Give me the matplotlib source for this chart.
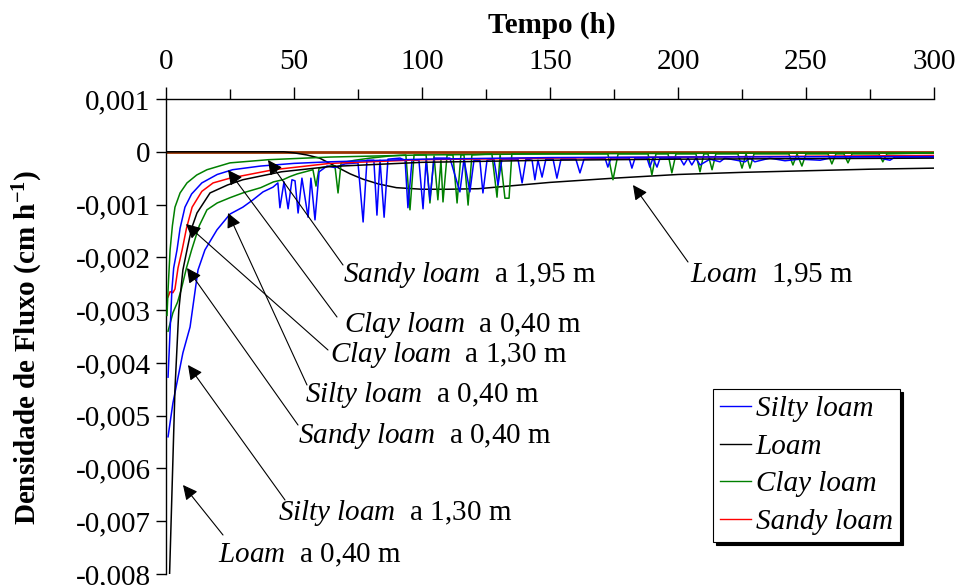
import matplotlib
matplotlib.use('Agg')
import matplotlib.pyplot as plt
from matplotlib.ticker import FuncFormatter, MultipleLocator
from matplotlib.lines import Line2D
import numpy as np

plt.rcParams['font.family'] = ['Liberation Serif', 'DejaVu Serif']
plt.rcParams['mathtext.fontset'] = 'custom'
plt.rcParams['mathtext.rm'] = 'Liberation Serif'
plt.rcParams['mathtext.it'] = 'Liberation Serif:italic'
plt.rcParams['mathtext.bf'] = 'Liberation Serif:bold'
plt.rcParams['axes.unicode_minus'] = False

# ---------------- data (time in h, flux in 1e-3 cm/h) ----------------
silty040_t = [0.8, 2.3, 3.0, 4.3, 5.5, 7.4, 10, 14, 20, 26, 37, 50, 64, 100, 150, 200, 300]
silty040_f = [-4.27, -2.62, -2.2, -1.86, -1.45, -1.05, -0.80, -0.59, -0.43, -0.34, -0.27, -0.22,
              -0.19, -0.14, -0.11, -0.10, -0.09]

silty130_t = [0.8, 2.7, 6.6, 9.4, 12.5, 15.2, 19.9, 25, 30, 34, 37.9, 41.8, 43.7, 44.5, 46.1, 47.7,
              49.2, 50.4, 51.6, 53.1, 55.5, 56.6, 58.2, 59.8, 62.9, 66, 69.9, 75, 77, 78.5, 81.2,
              82.4, 83.6, 85.2, 86.7, 91.4, 93.4, 94.5, 96.1, 98.8, 100.4, 101.6, 103.1, 104.7,
              110.9, 114.8, 116.4, 118.7, 120.3, 122.6, 123.8, 125.4, 128.1, 129.7, 131.2, 137.5,
              139.1, 140.6, 143, 144.1, 145.3, 146.9, 148.4, 151.2, 152.7, 154.3, 160.1, 161.7,
              163.3, 171.5, 172.6, 173.8, 180.9, 182, 183.2, 187.9, 189, 190.2, 191.8, 193, 200.8,
              202.3, 203.9, 205.4, 207, 208.6, 212.5, 216.4, 218.3, 226.2, 228.1, 230, 235.9,
              241.8, 247.6, 255.5, 259.4, 278.9, 282.8, 284.8, 300]
silty130_f = [-5.40, -4.76, -3.81, -3.32, -2.24, -1.86, -1.48, -1.18, -1.05, -0.91, -0.76, -0.67,
              -0.59, -1.06, -0.57, -1.08, -0.53, -0.55, -1.16, -0.50, -1.24, -0.50, -1.29, -0.38,
              -0.27, -0.30, -0.23, -0.21, -1.33, -0.16, -0.16, -1.20, -0.16, -1.24, -0.14, -0.12,
              -0.16, -1.06, -0.16, -0.16, -1.08, -0.16, -0.91, -0.12, -0.12, -0.76, -0.14, -0.76,
              -0.16, -0.16, -0.78, -0.16, -0.14, -0.63, -0.14, -0.14, -0.59, -0.14, -0.16, -0.53,
              -0.16, -0.48, -0.14, -0.14, -0.50, -0.14, -0.14, -0.40, -0.14, -0.12, -0.29, -0.12,
              -0.12, -0.31, -0.12, -0.12, -0.29, -0.12, -0.29, -0.12, -0.12, -0.25, -0.12, -0.25,
              -0.12, -0.25, -0.14, -0.19, -0.12, -0.19, -0.12, -0.19, -0.12, -0.17, -0.14, -0.16,
              -0.12, -0.12, -0.16, -0.10, -0.10]

loam040_t = [1.4, 3.5, 5.0, 6.6, 8.2, 10, 12.1, 17.2, 24, 30, 45, 64, 100, 150, 200, 300]
loam040_f = [-8.0, -4.5, -3.0, -2.24, -1.86, -1.45, -1.16, -0.78, -0.63, -0.53, -0.38, -0.28,
             -0.20, -0.16, -0.14, -0.12]

loam195_t = [0, 46, 50, 55, 60, 64, 68, 72, 77, 83, 90, 100, 110, 122, 150, 175, 200, 225, 250,
             275, 300]
loam195_f = [0, 0, -0.02, -0.06, -0.12, -0.22, -0.32, -0.42, -0.52, -0.61, -0.68, -0.71, -0.71,
             -0.70, -0.58, -0.50, -0.43, -0.39, -0.36, -0.33, -0.31]

clay040_t = [0.4, 0.8, 1.6, 2.5, 3.5, 5.5, 8.2, 12, 16, 25, 40, 64, 100, 150, 200, 300]
clay040_f = [-3.1, -2.62, -1.86, -1.4, -1.05, -0.78, -0.59, -0.44, -0.34, -0.21, -0.15, -0.10,
             -0.06, -0.04, -0.03, -0.02]

clay130_t = [0.8, 2.7, 4.5, 6, 8, 10, 13, 16, 20, 25, 30, 37, 42, 45.7, 48.4, 51.2, 54.3, 57.4,
             58.6, 59.8, 64.1, 66, 67.2, 68.4, 73.8, 79.7, 87.5, 93.7, 95.3, 96.9, 101.6, 103.1,
             104.7, 106.2, 107.4, 108.2, 109.8, 112.1, 113.7, 115.2, 116.4, 118, 119.5, 127.3,
             129.3, 130.5, 132.4, 134, 135.1, 172.6, 174.6, 176.6, 188.3, 189.8, 191.4, 196.1,
             197.6, 199.2, 207, 208.6, 210.1, 211.7, 213.3, 214.8, 223.4, 225, 226.6, 228.1,
             229.7, 243.3, 244.9, 246.5, 248.4, 250, 258.6, 260.1, 261.7, 264.8, 266.4, 268,
             278.5, 280, 281.6, 300]
clay130_f = [-3.4, -3.05, -2.85, -2.6, -2.2, -1.86, -1.4, -1.1, -0.97, -0.87, -0.78, -0.68,
             -0.57, -0.53, -0.47, -0.42, -0.38, -0.34, -0.65, -0.31, -0.27, -0.27, -0.78, -0.21,
             -0.16, -0.12, -0.08, -0.06, -1.10, -0.06, -0.06, -0.97, -0.08, -0.91, -0.16, -0.95,
             -0.06, -0.06, -0.97, -0.06, -0.06, -1.01, -0.06, -0.04, -0.86, -0.06, -0.88, -0.88,
             -0.04, -0.04, -0.53, -0.04, -0.04, -0.44, -0.04, -0.04, -0.40, -0.04, -0.04, -0.38,
             -0.04, -0.04, -0.34, -0.04, -0.04, -0.31, -0.04, -0.31, -0.04, -0.04, -0.25, -0.04,
             -0.27, -0.04, -0.04, -0.23, -0.04, -0.04, -0.21, -0.04, -0.04, -0.19, -0.04, -0.02]

sandy040_t = [0.8, 1.6, 2.7, 3.5, 4.7, 6.3, 8, 10.2, 14, 18.4, 25, 42, 64, 100, 150, 200, 300]
sandy040_f = [-2.75, -2.65, -2.67, -2.6, -2.2, -1.86, -1.45, -1.05, -0.75, -0.59, -0.50, -0.34,
              -0.22, -0.15, -0.12, -0.10, -0.07]

zero_t = [0, 300]
zero_f = [0, 0]

legend_labels = ['Silty loam', 'Loam', 'Clay loam', 'Sandy loam']

# annotation texts: (soil, depth)
ann_soil = ['Sandy loam', 'Clay loam', 'Clay loam', 'Silty loam', 'Sandy loam', 'Silty loam',
            'Loam', 'Loam']
ann_depth = ['a 1,95 m', 'a 0,40 m', 'a 1,30 m', 'a 0,40 m', 'a 0,40 m', 'a 1,30 m',
             'a 0,40 m', '1,95 m']

# ---------------- figure ----------------
W, H = 960, 585
FS = 21
fig = plt.figure(figsize=(W / 100, H / 100), dpi=100)
ax = fig.add_axes([166 / W, 11 / H, 768 / W, 475 / H])

S = 1e-3
lw = 1.1
ax.plot(zero_t, np.array(zero_f) * S, color='#993300', lw=2.0, zorder=2)
ax.plot(loam195_t, np.array(loam195_f) * S, color='black', lw=lw, zorder=3)
ax.plot(clay130_t, np.array(clay130_f) * S, color='#008000', lw=lw, zorder=3)
ax.plot(silty130_t, np.array(silty130_f) * S, color='#0000FF', lw=lw, zorder=3)
ax.plot(loam040_t, np.array(loam040_f) * S, color='black', lw=lw, zorder=3)
ax.plot(sandy040_t, np.array(sandy040_f) * S, color='#FF0000', lw=lw, zorder=3)
ax.plot(silty040_t, np.array(silty040_f) * S, color='#0000FF', lw=lw, zorder=3)
ax.plot(clay040_t, np.array(clay040_f) * S, color='#008000', lw=lw, zorder=3)

ax.set_xlim(0, 300)
ax.set_ylim(-0.008, 0.001)

# axes styling
for s in ['right', 'bottom']:
    ax.spines[s].set_visible(False)
for s in ['left', 'top']:
    ax.spines[s].set_linewidth(1.0)
ax.xaxis.tick_top()
ax.xaxis.set_label_position('top')
ax.xaxis.set_major_locator(MultipleLocator(50))
ax.xaxis.set_minor_locator(MultipleLocator(25))
ax.yaxis.set_major_locator(MultipleLocator(0.001))
ax.tick_params(axis='x', which='major', direction='out', length=9, width=1, pad=8, labelsize=FS)
ax.tick_params(axis='x', which='minor', direction='out', length=7, width=1)
ax.tick_params(axis='y', which='major', direction='out', length=7, width=1, pad=4, labelsize=FS)


def yfmt(v, pos):
    if abs(v) < 1e-9:
        return '0'
    return ('%.3f' % v).replace('.', ',')


ax.yaxis.set_major_formatter(FuncFormatter(yfmt))
ax.set_xlabel('Tempo (h)', fontsize=FS, fontweight='bold')
ax.xaxis.set_label_coords(0.503, 1.139)
ax.set_ylabel(r'Densidade de Fluxo (cm h$^{\mathbf{-1}}$)', fontsize=FS, fontweight='bold')
ax.yaxis.set_label_coords(-0.1576, 0.478)


# annotations (pixel positions of the reference converted to data coords)
def px2data(px, py):
    return ((px - 166) * 300 / 768, 0.001 - (py - 99) * 0.009 / 475)


ann_heads = [(268, 160), (228, 170), (186, 224), (228, 213), (187, 268), (188, 365), (183, 485),
             (633, 185)]
ann_tails = [(343, 265), (337, 317), (328, 350), (307, 385), (298, 425), (285, 500), (223, 535),
             (688, 262)]
ann_text = [(343, 275), (344, 325), (330, 355), (305, 395), (298, 436), (278, 513), (218, 555),
            (690, 275)]

for soil, depth, hd, tl, tx in zip(ann_soil, ann_depth, ann_heads, ann_tails, ann_text):
    ax.annotate('', xy=px2data(*hd), xytext=px2data(*tl),
                arrowprops=dict(arrowstyle='-|>', color='black', lw=0.8,
                                mutation_scale=22, shrinkA=0, shrinkB=0),
                annotation_clip=False)
    soil_tex = soil.replace(' ', r'\ ')
    ax.text(*px2data(*tx), r'$\mathit{' + soil_tex + r'}$  ' + depth, fontsize=FS,
            ha='left', va='center')

# legend
colors = ['#0000FF', 'black', '#008000', '#FF0000']
handles = [Line2D([0], [0], color=c, lw=1.0) for c in colors]
leg = ax.legend(handles, legend_labels, loc='upper left', bbox_to_anchor=(0.712, 0.390),
                frameon=True, fancybox=False, shadow={'color': 'black', 'alpha': 1},
                edgecolor='black', framealpha=1, prop={'style': 'italic', 'size': FS},
                handlelength=1.05, handletextpad=0.17, labelspacing=0.38, borderpad=0.25,
                borderaxespad=0)
leg.get_frame().set_linewidth(0.8)

fig.savefig('out.png', dpi=100)
